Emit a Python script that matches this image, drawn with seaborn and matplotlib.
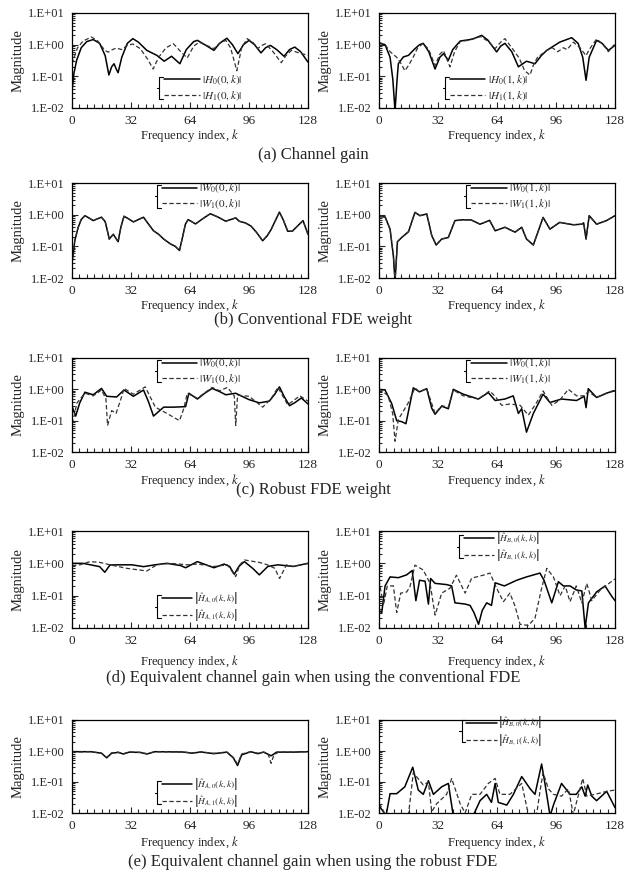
import numpy as np
import matplotlib
matplotlib.use("Agg")
import matplotlib.pyplot as plt
import matplotlib.ticker as mticker
import seaborn as sns

# ---- data ----
ytick_vals = [0.01, 0.1, 1, 10]
ytick_labels = ["1.E-02", "1.E-01", "1.E+00", "1.E+01"]
xtick_vals = [0, 32, 64, 96, 128]

captions = ["(a) Channel gain",
            "(b) Conventional FDE weight",
            "(c) Robust FDE weight",
            "(d) Equivalent channel gain when using the conventional FDE",
            "(e) Equivalent channel gain when using the robust FDE"]

# (a) channel gain, user 0
ha0_k = [0, 1, 2.5, 5, 8, 11.5, 15, 18, 20, 21.5, 22.8, 24, 25, 27, 30, 33, 36, 40.6, 46, 50, 54, 58.5, 62,
         66, 68, 72, 77, 80, 84, 87, 90, 93, 96, 99, 102.5, 105, 107.6, 111, 115, 118, 120.8, 124, 128]
ha0_v = [0.035, 0.12, 0.32, 0.8, 1.25, 1.45, 1.1, 0.45, 0.11, 0.2, 0.25, 0.17, 0.13, 0.4, 1.1, 1.55, 1.2, 0.66, 0.46,
         0.3, 0.43, 0.25, 0.7, 1.25, 1.37, 1.0, 0.66, 1.1, 1.6, 1.0, 0.52, 1.0, 1.37, 1.0, 0.55, 0.8, 0.95, 0.7, 0.43,
         0.7, 0.84, 0.6, 0.28]
ha1_k = [0, 3, 6, 10.5, 14, 17.8, 19.7, 22, 24, 27, 30, 33, 37, 41, 44, 47, 51, 55, 59, 62.5, 66, 69, 73, 77,
         80, 83.4, 86, 89.4, 92, 95, 98, 100.7, 103, 105, 109, 113.5, 116, 119, 123, 128]
ha1_v = [0.25, 0.8, 1.3, 1.75, 1.3, 0.66, 0.58, 0.7, 0.78, 0.7, 0.95, 1.05, 0.75, 0.35, 0.17, 0.4, 0.8, 1.07, 0.6,
         0.38, 0.9, 1.2, 0.95, 0.75, 1.1, 1.37, 0.8, 0.15, 0.8, 1.55, 1.2, 0.75, 0.95, 1.07, 0.6, 0.27, 0.45, 0.66,
         0.55, 0.46]
# (a) channel gain, user 1
hb0_k = [0, 3.3, 6, 7.5, 8.7, 9.8, 10.5, 13.2, 16, 19, 22, 24, 27, 30.4, 33, 35, 37.6, 40, 44, 49.4, 52, 55.7,
         59, 63.8, 66, 68.3, 72, 75.6, 80, 84.6, 88, 91, 98, 104.5, 108, 110.5, 112.3, 114, 118, 121, 124.4, 128]
hb0_v = [1.1, 1.0, 0.4, 0.08, 0.008, 0.08, 0.25, 0.41, 0.46, 0.7, 1.0, 1.1, 0.6, 0.17, 0.4, 0.52, 0.32, 0.7, 1.3,
         1.45, 1.6, 1.97, 1.4, 0.59, 0.9, 1.1, 0.6, 0.2, 0.3, 0.25, 0.45, 0.66, 1.2, 1.66, 1.1, 0.4, 0.075, 0.4,
         1.37, 1.1, 0.66, 0.95]
hb1_k = [0, 3.3, 6, 9.6, 12, 14, 16, 18.6, 21, 24, 27, 30.4, 33, 35, 38.5, 41, 44, 49.4, 55, 59, 63, 66, 68.3,
         72, 76, 79, 81.9, 84, 86, 91, 94, 97, 100, 102, 105.4, 109, 112.3, 114, 118, 121, 124.4, 128]
hb1_v = [1.2, 1.0, 0.6, 0.4, 0.25, 0.15, 0.22, 0.41, 0.8, 1.1, 0.7, 0.22, 0.5, 0.65, 0.2, 0.6, 1.25, 1.4, 1.8,
         1.3, 0.75, 1.2, 1.55, 0.8, 0.38, 0.15, 0.11, 0.25, 0.4, 0.66, 0.8, 0.6, 0.8, 0.7, 1.2, 0.8, 0.45, 0.7,
         1.5, 1.1, 0.6, 1.07]

# (b) conventional FDE weight (W0 and W1 coincide)
wca_k = [0, 1.5, 3.3, 5, 7, 9, 11.5, 14, 16, 18, 18.8, 20.2, 22.4, 25, 26.5, 28.2, 30.5, 33.3, 36, 38.8, 41,
         44.2, 47, 49.7, 53.3, 56, 58.3, 60, 61.5, 63, 67, 71, 75, 79, 83.4, 86, 88.8, 90.7, 94, 97, 100, 103.4,
         106, 108, 110, 112.5, 114.5, 117, 119.5, 122, 125.3, 128]
wca0_v = [0.028, 0.15, 0.39, 0.7, 0.93, 0.8, 0.65, 0.75, 0.83, 0.6, 0.39, 0.17, 0.24, 0.14, 0.4, 0.89, 0.75, 0.59,
          0.7, 0.83, 0.55, 0.31, 0.24, 0.17, 0.12, 0.1, 0.074, 0.2, 0.5, 0.7, 0.51, 0.75, 1.07, 0.85, 0.62, 0.7,
          0.79, 0.62, 0.55, 0.44, 0.28, 0.15, 0.22, 0.34, 0.6, 1.2, 0.7, 0.3, 0.3, 0.42, 0.65, 0.24]
wca1_v = list(wca0_v)
wcb_k = [0, 3.3, 6, 7.8, 8.7, 10, 12.3, 16, 19.5, 22.2, 25.9, 28.6, 31, 34, 37.6, 41.2, 45.7, 50, 54.8, 60, 63,
         68.3, 73.8, 77.4, 80, 83.7, 89, 92.7, 98, 105.4, 110, 111, 112.3, 114, 118, 123.4, 128]
wcb0_v = [0.87, 0.85, 0.35, 0.05, 0.008, 0.14, 0.19, 0.29, 1.18, 0.93, 1.05, 0.22, 0.11, 0.17, 0.19, 0.65, 0.69,
          0.68, 0.5, 0.66, 0.31, 0.4, 0.28, 0.4, 0.17, 0.11, 0.82, 0.35, 0.57, 0.48, 0.5, 0.55, 0.17, 0.93, 0.5,
          0.65, 0.93]
wcb1_v = list(wcb0_v)

# (c) robust FDE weight, user 0
wra0_k = [0, 2, 4.2, 7, 11.5, 16, 18.8, 24.2, 28.2, 33.3, 38.8, 41.5, 44.2, 49.7, 55.2, 61.6, 63.4, 68, 72, 76,
          80, 83.4, 88.8, 90.7, 96, 101.6, 107, 110, 112.5, 115, 118, 121, 124.4, 128]
wra0_v = [0.29, 0.14, 0.37, 0.81, 0.67, 1.07, 0.6, 0.57, 0.95, 0.6, 0.95, 0.4, 0.14, 0.27, 0.27, 0.28, 0.75, 0.49,
          0.75, 1.07, 0.85, 0.67, 0.75, 0.66, 0.47, 0.37, 0.42, 0.7, 1.2, 0.6, 0.3, 0.38, 0.53, 0.34]
wra1_k = [0, 1, 2.7, 7, 11.5, 16, 18.4, 19.3, 21.5, 23.9, 27, 28.2, 33.3, 39.7, 45.2, 51.5, 58.3, 60.7, 62.5, 68,
          76, 80, 84.3, 88, 88.8, 89.8, 96, 103.4, 108, 111.7, 117, 123.6, 128]
wra1_v = [0.08, 0.13, 0.37, 0.75, 0.62, 0.95, 0.5, 0.07, 0.21, 0.17, 0.6, 1.07, 0.7, 1.2, 0.27, 0.17, 0.1, 0.25,
          0.75, 0.52, 1.15, 0.9, 1.15, 0.62, 0.07, 0.65, 0.6, 0.27, 0.5, 1.15, 0.32, 0.62, 0.42]
# (c) robust FDE weight, user 1
wrb0_k = [0, 3.3, 6.9, 9.6, 12.3, 14.6, 18.6, 21.9, 25.9, 28.6, 30.4, 34, 37.6, 40.3, 45.7, 53.9, 59.3, 63, 68.3,
          72.8, 75.6, 77.4, 80, 83.7, 89, 92.7, 99, 107.2, 111.3, 112.3, 113.5, 118, 124.4, 128]
wrb0_v = [1.0, 0.95, 0.35, 0.1, 0.093, 0.08, 1.12, 0.83, 1.05, 0.25, 0.16, 0.29, 0.24, 1.0, 0.7, 0.49, 0.79, 0.44,
          0.49, 0.62, 0.17, 0.24, 0.043, 0.17, 0.7, 0.38, 0.49, 0.44, 0.6, 0.26, 1.05, 0.55, 0.79, 0.9]
wrb1_k = [0, 5, 7.4, 8.7, 10.5, 16, 19.5, 21.9, 25.9, 30.4, 34, 37.6, 40.3, 45.7, 53.9, 60, 63, 66.5, 71, 76.5,
          81, 85.5, 89, 93.7, 98, 102.7, 107.2, 111.3, 113.5, 118, 124, 128]
wrb1_v = [1.05, 0.62, 0.17, 0.022, 0.11, 0.38, 1.12, 0.83, 1.05, 0.17, 0.3, 0.27, 0.95, 0.62, 0.49, 0.89, 0.6,
          0.31, 0.34, 0.31, 0.15, 0.38, 0.89, 0.31, 0.45, 1.0, 0.62, 0.62, 0.85, 0.55, 0.79, 0.95]

# (d) equivalent channel gain, conventional FDE, antenna A
eca0_k = [0, 6, 15, 17.8, 20.6, 26, 32.4, 38.8, 45, 51.5, 59, 61.6, 68, 77, 82.5, 85.5, 88, 90.5, 93.5, 98,
          101.6, 106.2, 111.7, 120, 128]
eca0_v = [1.0, 1.0, 0.79, 0.53, 0.89, 0.9, 0.9, 0.79, 0.9, 1.0, 0.85, 0.73, 1.13, 0.73, 0.95, 0.8, 0.46, 0.8,
          1.13, 0.7, 0.44, 0.8, 0.9, 0.8, 1.0]
eca1_k = [0, 4.2, 9.7, 15, 20.6, 29.7, 40.6, 46, 53.4, 62.5, 68, 77, 84.3, 88.8, 91, 93.5, 101.6, 106, 110,
          112.6, 116.3, 120, 128]
eca1_v = [0.85, 0.9, 1.13, 1.07, 0.9, 0.7, 0.58, 0.9, 1.0, 0.9, 0.95, 0.8, 0.9, 0.39, 0.9, 1.27, 1.07, 0.9, 0.7,
          0.34, 0.9, 0.8, 1.0]
# (d) equivalent channel gain, conventional FDE, antenna B
ecb0_k = [0, 1.5, 3.3, 6, 10.5, 15, 18, 20, 22, 25, 26.8, 28, 30.4, 36.7, 39.4, 41.2, 46.7, 49.4, 51.5, 54, 56,
          58.4, 61, 63, 68, 74.7, 80, 87.3, 89.5, 93.7, 97.3, 100, 103.6, 107, 110, 111.8, 113.6, 118, 122.6, 126,
          128]
ecb0_v = [0.035, 0.03, 0.2, 0.38, 0.36, 0.44, 0.6, 0.07, 0.3, 0.28, 0.055, 0.34, 0.24, 0.22, 0.2, 0.06, 0.055,
          0.05, 0.03, 0.013, 0.035, 0.06, 0.05, 0.25, 0.2, 0.3, 0.38, 0.5, 0.3, 0.06, 0.27, 0.2, 0.2, 0.15, 0.14,
          0.01, 0.06, 0.13, 0.2, 0.1, 0.07]
ecb1_k = [0, 2.4, 4.5, 7.8, 9.6, 11.8, 15, 16.8, 19.5, 24, 27.7, 30.4, 34, 38.5, 42, 46.7, 50.3, 56.6, 60.2,
          63.8, 67.5, 71, 73.8, 76.5, 81, 84.6, 88.2, 91, 94.6, 98.2, 101, 103.6, 107, 110, 112.7, 115.4, 120, 128]
ecb1_v = [0.3, 0.05, 0.2, 0.2, 0.03, 0.12, 0.13, 0.19, 0.88, 0.62, 0.24, 0.025, 0.12, 0.17, 0.43, 0.12, 0.35,
          0.43, 0.5, 0.17, 0.065, 0.12, 0.047, 0.013, 0.012, 0.02, 0.17, 0.7, 0.38, 0.1, 0.2, 0.065, 0.2, 0.06,
          0.24, 0.07, 0.15, 0.33]

# (e) equivalent channel gain, robust FDE, antenna A
era0_k = [0, 10, 16, 18.8, 21.5, 25, 27.9, 31, 37, 40.6, 45, 60, 65, 70, 77, 84, 87.5, 89.8, 92, 97, 100.7,
          104, 108, 111, 120, 128]
era0_v = [0.95, 0.95, 0.85, 0.6, 0.85, 0.9, 0.8, 0.92, 0.9, 0.8, 0.95, 0.93, 0.85, 0.93, 0.82, 0.92, 0.6, 0.34,
          0.75, 0.95, 0.82, 0.92, 0.7, 0.92, 0.92, 0.95]
era1_k = [0, 10, 16, 18.8, 21.5, 25, 27.9, 31, 37, 40.6, 45, 60, 65, 70, 77, 84, 87.5, 89.8, 92, 97, 100.7,
          104, 106.5, 108, 109.5, 112, 120, 128]
era1_v = [0.92, 0.95, 0.85, 0.62, 0.87, 0.92, 0.82, 0.93, 0.9, 0.82, 0.95, 0.93, 0.87, 0.93, 0.84, 0.92, 0.62,
          0.38, 0.8, 0.95, 0.85, 0.92, 0.75, 0.4, 0.75, 0.92, 0.92, 0.95]
# (e) equivalent channel gain, robust FDE, antenna B
erb0_k = [0, 2.4, 3.8, 6, 9.6, 14, 18.3, 21.3, 24, 26.8, 29.5, 34, 37.6, 40.3, 51, 54.8, 58.4, 61, 63, 64.7,
          69.3, 72.9, 77.4, 82, 84.6, 88.2, 90, 92.8, 94.6, 99, 103.6, 107, 110, 111.8, 113.2, 115.4, 118, 123.5,
          128]
erb0_v = [0.017, 0.011, 0.008, 0.042, 0.042, 0.07, 0.3, 0.055, 0.04, 0.11, 0.04, 0.07, 0.09, 0.008, 0.008,
          0.025, 0.04, 0.022, 0.09, 0.022, 0.018, 0.04, 0.15, 0.06, 0.04, 0.38, 0.09, 0.008, 0.018, 0.09, 0.04,
          0.04, 0.07, 0.035, 0.08, 0.035, 0.025, 0.05, 0.015]
erb1_k = [0, 1.5, 3.3, 16, 18.6, 24, 26.8, 28.6, 31.3, 36.7, 39.4, 44, 46.7, 50.3, 54.8, 59.3, 63, 65.6, 71,
          77.4, 81, 85.5, 87.3, 89, 91.9, 94.6, 99, 102.7, 105.4, 108, 110.5, 112.7, 117.2, 123.5, 128]
erb1_v = [0.02, 0.015, 0.009, 0.009, 0.2, 0.08, 0.1, 0.011, 0.02, 0.04, 0.13, 0.02, 0.01, 0.04, 0.04, 0.09, 0.13,
          0.04, 0.04, 0.09, 0.009, 0.009, 0.05, 0.2, 0.06, 0.04, 0.035, 0.06, 0.009, 0.035, 0.13, 0.035, 0.04,
          0.05, 0.055]

# ---- style ----
sns.set_style("ticks")
plt.rcParams["font.family"] = ["Liberation Serif", "DejaVu Serif"]
plt.rcParams["mathtext.fontset"] = "stix"
plt.rcParams["axes.linewidth"] = 0.9

W, H = 626, 883
fig = plt.figure(figsize=(W / 100, H / 100), dpi=100)

lefts = [72, 379]
rows = [(13, 108), (183, 278), (358, 452), (531, 628), (720, 813)]
cap_y = [155, 320, 490, 678, 862]
xlab_pad = [0, 0, 1, 4.5, 1.5]
leg_size = [8, 8, 8, 6.8, 6.8]

panels = [
    [(ha0_k, ha0_v, ha1_k, ha1_v, r"$|H_0(0,k)|$", r"$|H_1(0,k)|$", (0.39, 0.21)),
     (hb0_k, hb0_v, hb1_k, hb1_v, r"$|H_0(1,k)|$", r"$|H_1(1,k)|$", (0.30, 0.21))],
    [(wca_k, wca0_v, wca_k, wca1_v, r"$|W_0(0,k)|$", r"$|W_1(0,k)|$", (0.38, 0.86)),
     (wcb_k, wcb0_v, wcb_k, wcb1_v, r"$|W_0(1,k)|$", r"$|W_1(1,k)|$", (0.39, 0.86))],
    [(wra0_k, wra0_v, wra1_k, wra1_v, r"$|W_0(0,k)|$", r"$|W_1(0,k)|$", (0.38, 0.86)),
     (wrb0_k, wrb0_v, wrb1_k, wrb1_v, r"$|W_0(1,k)|$", r"$|W_1(1,k)|$", (0.39, 0.86))],
    [(eca0_k, eca0_v, eca1_k, eca1_v, r"$\left|\hat{H}_{A,0}(k,k)\right|$", r"$\left|\hat{H}_{A,1}(k,k)\right|$", (0.38, 0.22)),
     (ecb0_k, ecb0_v, ecb1_k, ecb1_v, r"$\left|\hat{H}_{B,0}(k,k)\right|$", r"$\left|\hat{H}_{B,1}(k,k)\right|$", (0.36, 0.84))],
    [(era0_k, era0_v, era1_k, era1_v, r"$\left|\hat{H}_{A,0}(k,k)\right|$", r"$\left|\hat{H}_{A,1}(k,k)\right|$", (0.38, 0.22)),
     (erb0_k, erb0_v, erb1_k, erb1_v, r"$\left|\hat{H}_{B,0}(k,k)\right|$", r"$\left|\hat{H}_{B,1}(k,k)\right|$", (0.37, 0.88))],
]

for r, (top, bot) in enumerate(rows):
    for c in range(2):
        k0, v0, k1, v1, lab0, lab1, (lx, ly) = panels[r][c]
        ax = fig.add_axes([lefts[c] / W, 1 - bot / H, 236 / W, (bot - top) / H])
        sns.lineplot(x=k0, y=v0, ax=ax, color="black", lw=1.1, label=lab0, sort=False)
        sns.lineplot(x=k1, y=v1, ax=ax, color="#333333", lw=0.9, linestyle=(0, (3.5, 2)), label=lab1, sort=False)
        ax.set_yscale("log")
        ax.set_ylim(0.01, 10)
        ax.set_xlim(0, 128)
        ax.yaxis.set_major_locator(mticker.FixedLocator(ytick_vals))
        ax.yaxis.set_major_formatter(mticker.FixedFormatter(ytick_labels))
        ax.yaxis.set_minor_locator(mticker.LogLocator(base=10, subs=np.arange(2, 10)))
        ax.yaxis.set_minor_formatter(mticker.NullFormatter())
        ax.xaxis.set_major_locator(mticker.FixedLocator(xtick_vals))
        ax.xaxis.set_minor_locator(mticker.MultipleLocator(4))
        ax.tick_params(which="both", direction="in", top=False, right=False, width=0.8)
        ax.tick_params(axis="y", which="major", length=4, pad=5, labelsize=9)
        ax.tick_params(axis="y", which="minor", length=2)
        ax.tick_params(axis="x", which="major", length=4, pad=5, labelsize=9.5)
        ax.tick_params(axis="x", which="minor", length=3)
        for s in ax.spines.values():
            s.set_visible(True)
            s.set_color("black")
        ax.set_xlabel("Frequency index, $k$", fontsize=9.2, labelpad=xlab_pad[r])
        ax.set_ylabel("Magnitude", fontsize=10.5, labelpad=3)
        ax.legend(loc="center left", bbox_to_anchor=(lx, ly), frameon=False, fontsize=leg_size[r],
                  handlelength=3.2, handletextpad=0.2, labelspacing=0.15, borderpad=0, borderaxespad=0)
        # bracket in front of the legend
        bh = 0.12
        ax.plot([lx - 0.005, lx - 0.02, lx - 0.02, lx - 0.005], [ly + bh, ly + bh, ly - bh, ly - bh],
                transform=ax.transAxes, color="black", lw=0.8, clip_on=False)
        ax.plot([lx - 0.02, lx - 0.03], [ly, ly], transform=ax.transAxes, color="black", lw=0.8, clip_on=False)
    fig.text(0.5, 1 - cap_y[r] / H, captions[r], ha="center", va="center", fontsize=12)

fig.savefig("out.png", dpi=100)
